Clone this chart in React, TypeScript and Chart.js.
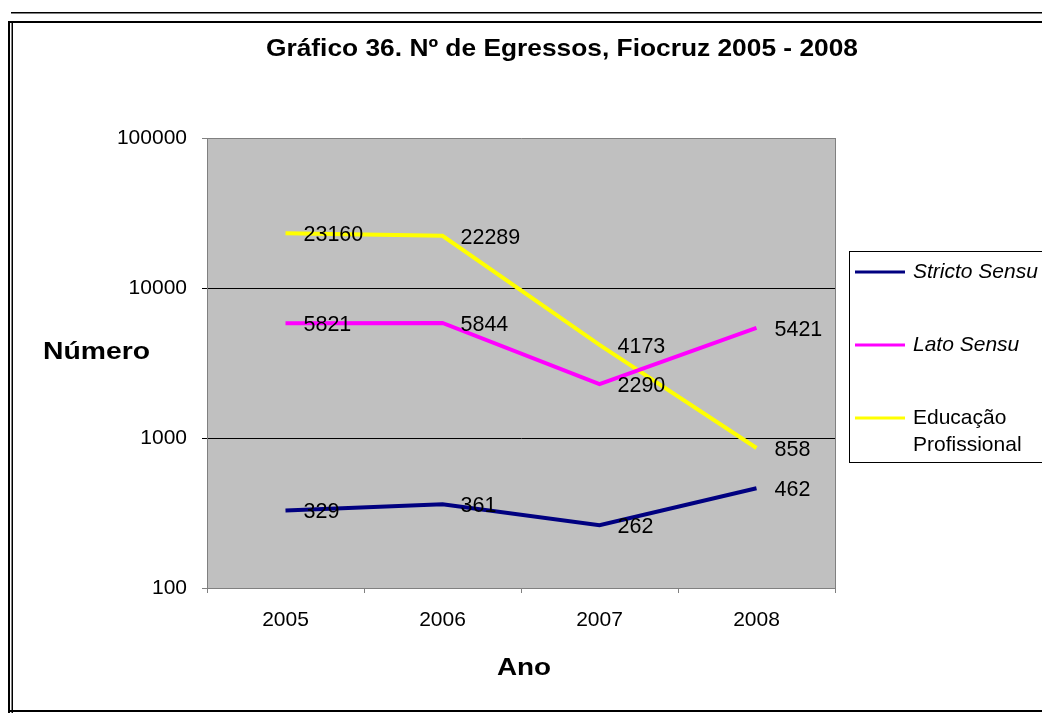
import React, { useEffect, useRef } from "react";
import { Chart, registerables } from "chart.js";

Chart.register(...registerables);

const YEARS = ["2005", "2006", "2007", "2008"];
const STRICTO = [329, 361, 262, 462];
const LATO = [5821, 5844, 2290, 5421];
const EDUC = [23160, 22289, 4173, 858];
const Y_TICKS = [100, 1000, 10000, 100000];
const SERIES_LABELS = [["Stricto Sensu"], ["Lato Sensu"], ["Educação", "Profissional"]];
const SERIES_ITALIC = [true, true, false];
const SERIES_COLORS = ["#000080", "#FF00FF", "#FFFF00"];
const TITLE = "Gráfico 36. Nº de Egressos, Fiocruz 2005 - 2008";
const Y_TITLE = "Número";
const X_TITLE = "Ano";

const FONT = "'Liberation Sans', Arial, Helvetica, sans-serif";

function drawText(
  ctx: CanvasRenderingContext2D,
  text: string,
  x: number,
  y: number,
  font: string,
  align: CanvasTextAlign,
  stretch = 1
) {
  ctx.save();
  ctx.font = font;
  ctx.fillStyle = "#000";
  ctx.textBaseline = "middle";
  ctx.textAlign = align;
  ctx.translate(x, y);
  ctx.scale(stretch, 1);
  ctx.fillText(text, 0, 0);
  ctx.restore();
}

const decorPlugin = {
  id: "decor",
  beforeDraw(chart: any) {
    const ctx = chart.ctx as CanvasRenderingContext2D;
    const { left, top, right, bottom } = chart.chartArea;
    ctx.save();
    ctx.fillStyle = "#FFFFFF";
    ctx.fillRect(0, 0, chart.width, chart.height);
    ctx.fillStyle = "#000";
    ctx.fillRect(11, 12, chart.width - 11, 1.5);
    ctx.fillRect(9, 21, chart.width - 9, 2);
    ctx.fillRect(8, 21, 2, chart.height - 21);
    ctx.fillRect(11.5, 21, 1.5, chart.height - 21);
    ctx.fillRect(8, 710, chart.width - 8, 2);
    ctx.fillStyle = "#C0C0C0";
    ctx.fillRect(left, top, right - left, bottom - top);
    ctx.restore();
  },
  afterDatasetsDraw(chart: any) {
    const ctx = chart.ctx as CanvasRenderingContext2D;
    const { left, top, right, bottom } = chart.chartArea;
    ctx.save();
    ctx.strokeStyle = "#808080";
    ctx.lineWidth = 1;
    ctx.beginPath();
    ctx.moveTo(right + 0.5, top);
    ctx.lineTo(right + 0.5, bottom);
    ctx.stroke();
    ctx.restore();
    chart.data.datasets.forEach((ds: any, di: number) => {
      const meta = chart.getDatasetMeta(di);
      meta.data.forEach((pt: any, i: number) => {
        drawText(ctx, String(ds.data[i]), pt.x + 18, pt.y + 2, `21.5px ${FONT}`, "left");
      });
    });
  },
  afterDraw(chart: any) {
    const ctx = chart.ctx as CanvasRenderingContext2D;
    drawText(ctx, TITLE, 562, 49, `bold 24px ${FONT}`, "center", 1.097);
    drawText(ctx, Y_TITLE, 96.5, 352, `bold 24px ${FONT}`, "center", 1.18);
    drawText(ctx, X_TITLE, 524, 668, `bold 24px ${FONT}`, "center", 1.16);
    // legend
    ctx.save();
    ctx.strokeStyle = "#000";
    ctx.lineWidth = 1;
    ctx.strokeRect(849.5, 251.5, 210, 211);
    ctx.restore();
    const rows = [272, 345, 418];
    chart.data.datasets.forEach((ds: any, di: number) => {
      const y = rows[di];
      ctx.save();
      ctx.strokeStyle = ds.borderColor;
      ctx.lineWidth = 3;
      ctx.beginPath();
      ctx.moveTo(855, y);
      ctx.lineTo(905, y);
      ctx.stroke();
      ctx.restore();
      SERIES_LABELS[di].forEach((line, li) => {
        drawText(
          ctx,
          line,
          913,
          y + li * 27,
          `${SERIES_ITALIC[di] ? "italic " : ""}21px ${FONT}`,
          "left"
        );
      });
    });
  },
};

export default function App() {
  const ref = useRef<HTMLCanvasElement | null>(null);
  useEffect(() => {
    if (!ref.current) return;
    const series = [STRICTO, LATO, EDUC];
    const chart = new Chart(ref.current, {
      type: "line",
      data: {
        labels: YEARS,
        datasets: series.map((d, i) => ({
          label: SERIES_LABELS[i].join(" "),
          data: d,
          borderColor: SERIES_COLORS[i],
          backgroundColor: SERIES_COLORS[i],
          borderWidth: 4,
          pointRadius: 0,
          tension: 0,
          fill: false,
        })),
      },
      options: {
        animation: false,
        responsive: false,
        devicePixelRatio: 1,
        layout: { padding: { left: 0, top: 138, right: 207, bottom: 0 } },
        plugins: {
          legend: { display: false },
          title: { display: false },
          tooltip: { enabled: false },
        },
        scales: {
          x: {
            type: "category",
            offset: true,
            grid: {
              display: true,
              offset: true,
              drawOnChartArea: false,
              drawTicks: true,
              tickLength: 5,
              color: "#808080",
            },
            border: { display: true, color: "#808080" },
            ticks: {
              color: "#000",
              font: { family: FONT, size: 21 },
              padding: 15,
              maxRotation: 0,
            },
            afterFit: (scale: any) => {
              scale.height = 125;
            },
          },
          y: {
            type: "logarithmic",
            min: 100,
            max: 100000,
            grid: {
              drawTicks: true,
              tickLength: 5,
              color: (c: any) =>
                c.tick && (c.tick.value === 100 || c.tick.value === 100000) ? "#808080" : "#000",
            },
            border: { display: true, color: "#808080" },
            afterBuildTicks: (scale: any) => {
              scale.ticks = Y_TICKS.map((v) => ({ value: v }));
            },
            ticks: {
              color: "#000",
              font: { family: FONT, size: 21 },
              padding: 15,
              callback: (v: any) => String(v),
            },
            afterFit: (scale: any) => {
              scale.width = 207;
            },
          },
        },
      },
      plugins: [decorPlugin],
    });
    return () => chart.destroy();
  }, []);
  return (
    <div style={{ position: "absolute", left: 0, top: 0, width: 1042, height: 713 }}>
      <canvas ref={ref} width={1042} height={713} style={{ display: "block" }} />
    </div>
  );
}
